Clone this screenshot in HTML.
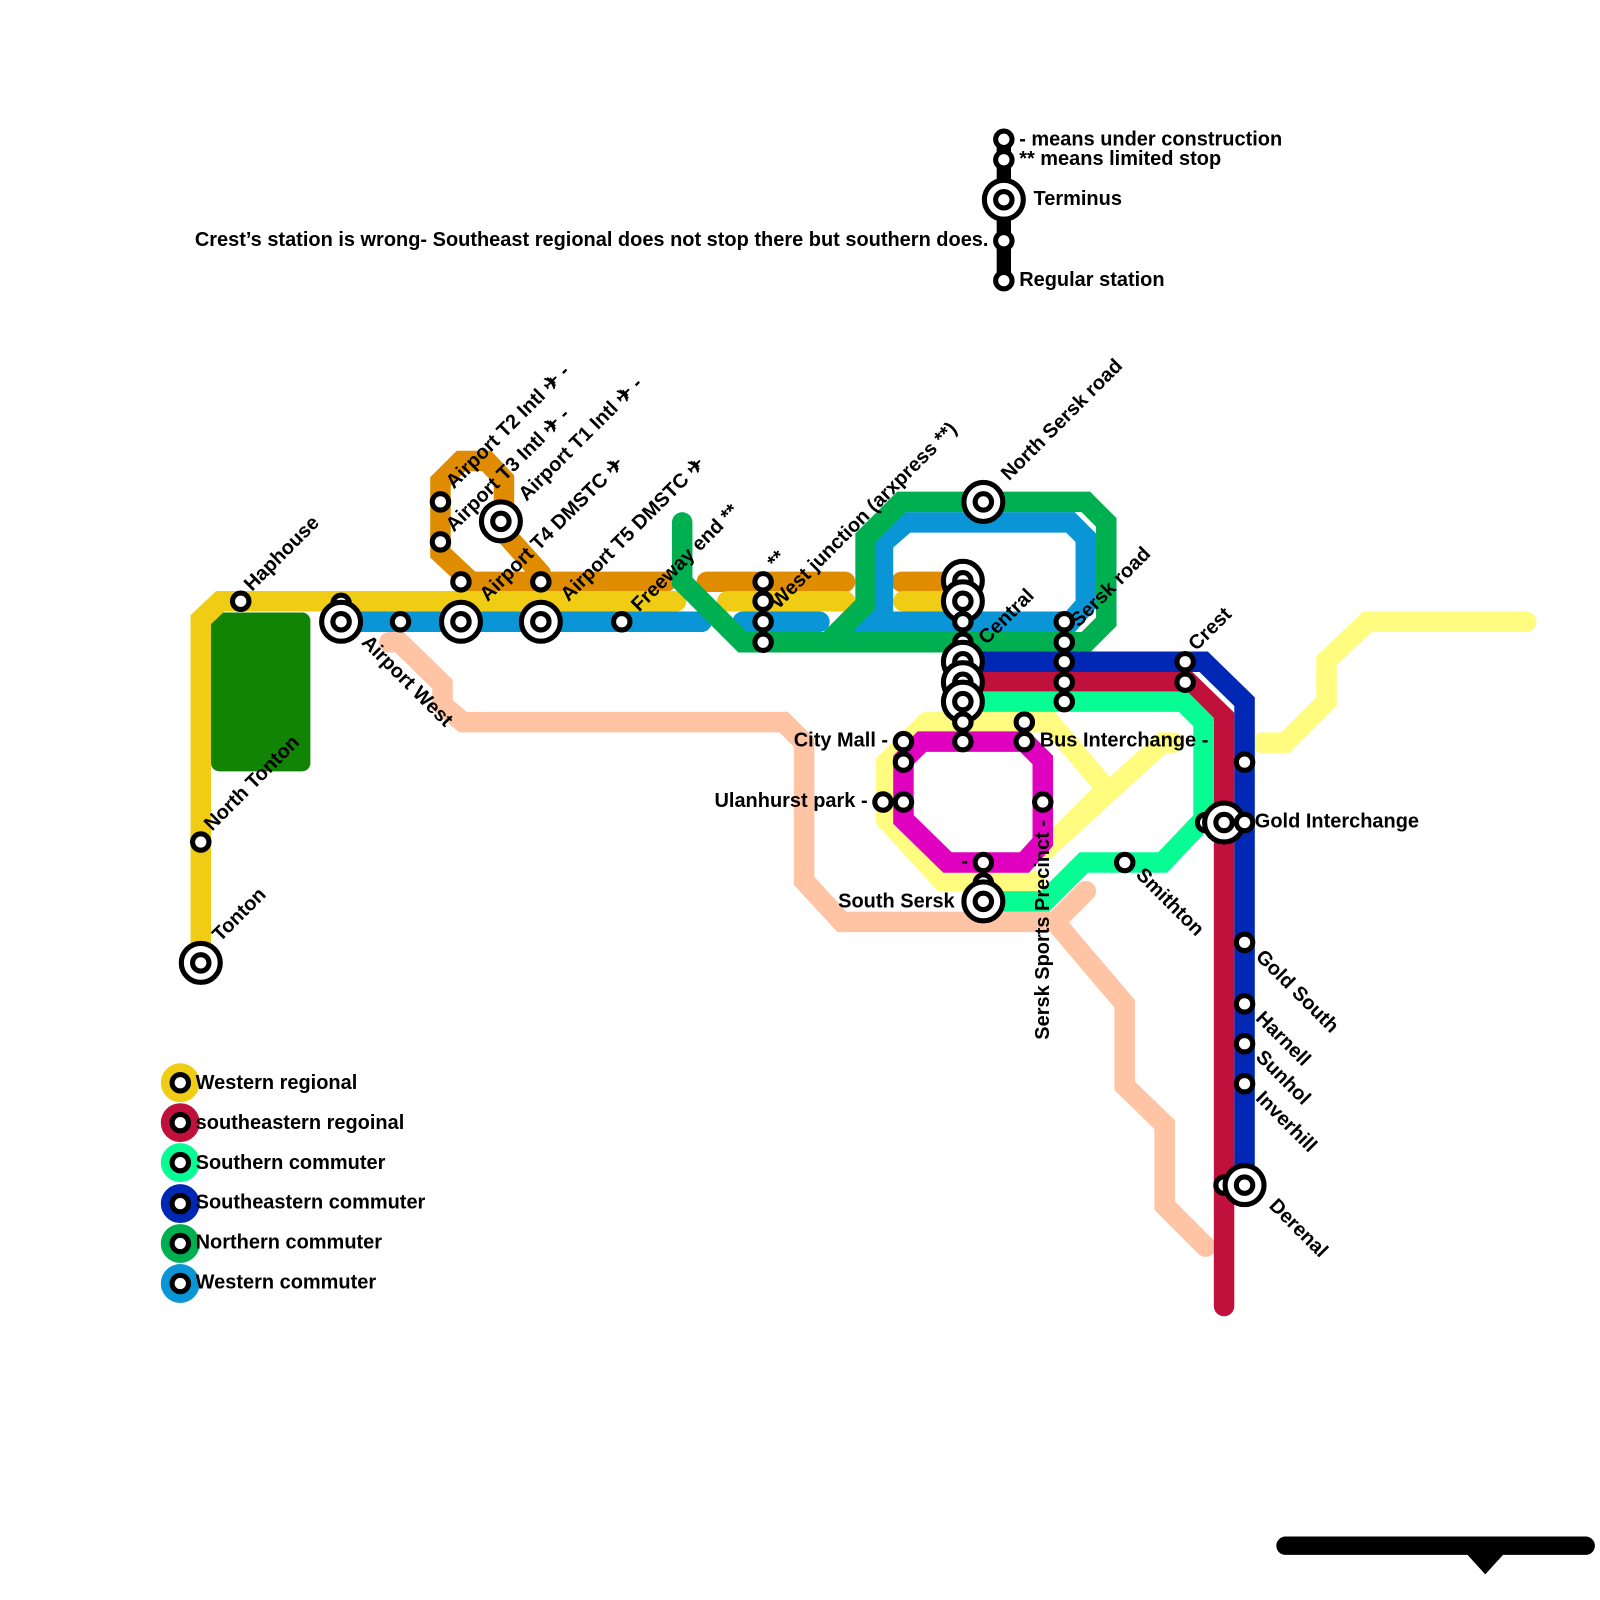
<!DOCTYPE html>
<html><head><meta charset="utf-8"><style>html,body{margin:0;padding:0;background:#fff}svg{display:block}text{font-family:"Liberation Sans",sans-serif;font-weight:bold;font-size:19.5px;fill:#000}</style></head>
<body>
<svg width="1600" height="1600" viewBox="0 0 1562 1562" xmlns="http://www.w3.org/2000/svg">
<defs>
<g id="s"><circle r="8" fill="#fff" stroke="#000" stroke-width="5"/></g>
<g id="t"><circle r="19" fill="#fff" stroke="#000" stroke-width="5"/><circle r="8" fill="#fff" stroke="#000" stroke-width="5"/></g>
</defs>
<rect x="206" y="598" width="97" height="155" rx="8" fill="#118403"/>
<g fill="none" stroke-width="20" stroke-linejoin="miter" stroke-linecap="round">
<path d="M380,627 L390,627 L432,668 L432,688 L452,705 L765,705 L785,725 L785,860 L822,900 L1030,900 L1060,870 M1030,900 L1098,980 L1098,1060 L1137,1098 L1137,1177 L1177,1217" stroke="#ffc4a4"/>
<path d="M905,705 L1025,705 L1080,770 M1020,830 L1135,725 L1145,725 M865,800 L865,745 L905,705 M865,800 L920,860 L1010,860 M1080,770 L1020,830" stroke="#fffc80"/>
<path d="M1232,725 L1255,725 L1295,685 L1295,645 L1335,607 L1490,607" stroke="#fffc80"/>
<path d="M650,568 L460,568 L430,540 L430,470 L450,450 L475,450 L492,468 L492,520 L528,560 M690,568 L825,568 M880,568 L920,568" stroke="#e08c00"/>
<path d="M196,940 L196,605 L215,587 L660,587 M710,587 L825,587 M882,587 L920,587" stroke="#f0cc14"/>
<path d="M333,607 L685,607 M725,607 L800,607" stroke="#0a96d6"/>
<path d="M850,607 L862,595 L862,530 L885,510 L1045,510 L1060,525 L1060,590 L1045,607 Z" stroke="#0a96d6" stroke-linejoin="miter"/>
<path d="M666,510 L666,568 L725,627 L1060,627 L1080,607 L1080,510 L1060,490 L880,490 L845,525 L845,590 L808,627" stroke="#00b050"/>
<path d="M940,646 L1175,646 L1215,685 L1215,1157" stroke="#0028b4" stroke-linecap="butt"/>
<path d="M940,666 L1160,666 L1195,700 L1195,1275" stroke="#c0103c"/>
<path d="M940,685 L1155,685 L1175,705 L1175,800 L1135,842 L1058,842 L1020,880 L960,880" stroke="#08fc94" stroke-linecap="butt"/>
<path d="M900,724 L1000,724 L1018,742 L1018,822 L1000,842 L925,842 L882,800 L882,742 Z" stroke="#e000c0"/>
<path d="M980,135 L980,275" stroke="#000" stroke-width="14"/>
<path d="M1255,1509 L1548,1509" stroke="#000" stroke-width="18"/>
</g>
<path d="M1430,1515 L1470,1515 L1450,1537 Z" fill="#000"/>
<g>
<circle cx="176" cy="1057" r="19" fill="#f0cc14"/><circle cx="176" cy="1096" r="19" fill="#c0103c"/><circle cx="176" cy="1135" r="19" fill="#08fc94"/><circle cx="176" cy="1175" r="19" fill="#0028b4"/><circle cx="176" cy="1214" r="19" fill="#00b050"/><circle cx="176" cy="1253" r="19" fill="#0a96d6"/>
<use href="#s" x="176" y="1057"/><use href="#s" x="176" y="1096"/><use href="#s" x="176" y="1135"/><use href="#s" x="176" y="1175"/><use href="#s" x="176" y="1214"/><use href="#s" x="176" y="1253"/>
</g>
<text x="191" y="1063">Western regional</text>
<text x="191" y="1102">southeastern regoinal</text>
<text x="191" y="1141">Southern commuter</text>
<text x="191" y="1180">Southeastern commuter</text>
<text x="191" y="1219">Northern commuter</text>
<text x="191" y="1258">Western commuter</text>
<use href="#s" x="980" y="136"/><use href="#s" x="980" y="156"/><use href="#t" x="980" y="195"/><use href="#s" x="980" y="235"/><use href="#s" x="980" y="274"/>
<use href="#t" x="196" y="940"/><use href="#s" x="196" y="822"/><use href="#s" x="235" y="587"/>
<use href="#s" x="333" y="589"/><use href="#t" x="333" y="607"/><use href="#s" x="391" y="607"/>
<use href="#s" x="450" y="568"/><use href="#t" x="450" y="607"/>
<use href="#s" x="430" y="490"/><use href="#s" x="430" y="529"/><use href="#t" x="489" y="509"/>
<use href="#s" x="528" y="568"/><use href="#t" x="528" y="607"/><use href="#s" x="607" y="607"/>
<use href="#s" x="745" y="568"/><use href="#s" x="745" y="587"/><use href="#s" x="745" y="607"/><use href="#s" x="745" y="627"/>
<use href="#t" x="960" y="490"/>
<use href="#t" x="940" y="567"/><use href="#t" x="940" y="587"/><use href="#s" x="940" y="627"/><use href="#s" x="940" y="607"/>
<use href="#t" x="940" y="646"/><use href="#t" x="940" y="666"/><use href="#t" x="940" y="685"/><use href="#s" x="940" y="705"/><use href="#s" x="940" y="724"/>
<use href="#s" x="1039" y="607"/><use href="#s" x="1039" y="627"/><use href="#s" x="1039" y="646"/><use href="#s" x="1039" y="666"/><use href="#s" x="1039" y="685"/>
<use href="#s" x="1000" y="705"/><use href="#s" x="1000" y="724"/>
<use href="#s" x="882" y="724"/><use href="#s" x="882" y="744"/><use href="#s" x="862" y="783"/><use href="#s" x="882" y="783"/>
<use href="#s" x="1018" y="783"/>
<use href="#s" x="960" y="842"/><use href="#s" x="960" y="862"/><use href="#t" x="960" y="880"/>
<use href="#s" x="1098" y="842"/>
<use href="#s" x="1157" y="646"/><use href="#s" x="1157" y="666"/>
<use href="#s" x="1215" y="744"/><use href="#s" x="1177" y="803"/><use href="#t" x="1195" y="803"/><use href="#s" x="1215" y="803"/>
<use href="#s" x="1215" y="920"/><use href="#s" x="1215" y="980"/><use href="#s" x="1215" y="1019"/><use href="#s" x="1215" y="1058"/>
<use href="#s" x="1195" y="1157"/><use href="#t" x="1215" y="1157"/>
<text x="995" y="142">- means under construction</text>
<text x="995" y="161">** means limited stop</text>
<text x="1009" y="200">Terminus</text>
<text x="995" y="279">Regular station</text>
<text x="965" y="240" text-anchor="end">Crest’s station is wrong- Southeast regional does not stop there but southern does.</text>
<text x="867" y="729" text-anchor="end">City Mall -</text>
<text x="847" y="788" text-anchor="end">Ulanhurst park -</text>
<text x="932" y="886" text-anchor="end">South Sersk</text>
<text x="945" y="847" text-anchor="end">-</text>
<text x="1015" y="729">Bus Interchange -</text>
<text x="1225" y="808">Gold Interchange</text>
<text transform="translate(1024,1015) rotate(-90)">Sersk Sports Precinct -</text>
<text transform="translate(215,920) rotate(-45)">Tonton</text>
<text transform="translate(207,812) rotate(-45)">North Tonton</text>
<text transform="translate(246,578) rotate(-45)">Haphouse</text>
<text transform="translate(443,478) rotate(-45)">Airport T2 Intl ✈ -</text>
<text transform="translate(443,520) rotate(-45)">Airport T3 Intl ✈ -</text>
<text transform="translate(514,490) rotate(-45)">Airport T1 Intl ✈ -</text>
<text transform="translate(476,588) rotate(-45)">Airport T4 DMSTC ✈</text>
<text transform="translate(555,588) rotate(-45)">Airport T5 DMSTC ✈</text>
<text transform="translate(624,598) rotate(-45)">Freeway end **</text>
<text transform="translate(757,556) rotate(-45)">**</text>
<text transform="translate(760,595) rotate(-45)">West junction (arxpress **)</text>
<text transform="translate(985,470) rotate(-45)">North Sersk road</text>
<text transform="translate(963,630) rotate(-45)">Central</text>
<text transform="translate(1053,613) rotate(-45)">Sersk road</text>
<text transform="translate(1168,636) rotate(-45)">Crest</text>
<text transform="translate(352,628) rotate(45)">Airport West</text>
<text transform="translate(1108,855) rotate(45)">Smithton</text>
<text transform="translate(1225,935) rotate(45)">Gold South</text>
<text transform="translate(1225,995) rotate(45)">Harnell</text>
<text transform="translate(1225,1033) rotate(45)">Sunhol</text>
<text transform="translate(1225,1073) rotate(45)">Inverhill</text>
<text transform="translate(1238,1178) rotate(45)">Derenal</text>
</svg>
</body></html>
